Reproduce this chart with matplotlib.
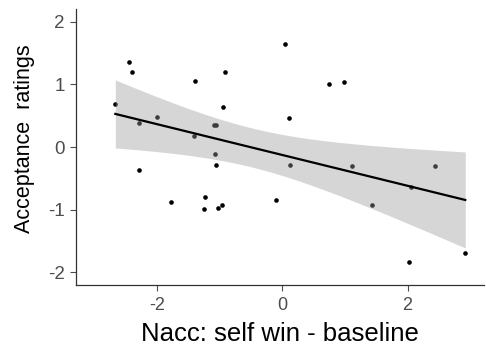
import numpy as np
import matplotlib
matplotlib.use("Agg")
import matplotlib.pyplot as plt

# data
nacc = [-2.66, -2.44, -2.40, -2.28, -2.00, -1.39, -1.41, -0.91, -0.95, -1.08,
        -1.05, -1.07, 0.05, 0.11, 0.75, 0.98, -1.06, -2.28, 0.12, -1.77,
        -1.23, -1.24, -1.02, -0.96, -0.10, 1.12, 2.43, 2.05, 1.44, 2.03, 2.92]
acceptance = [0.68, 1.36, 1.19, 0.39, 0.48, 1.06, 0.17, 1.19, 0.64, 0.35,
              0.35, -0.11, 1.65, 0.46, 1.00, 1.04, -0.29, -0.37, -0.29, -0.87,
              -0.79, -0.99, -0.98, -0.92, -0.85, -0.31, -0.31, -0.64, -0.93, -1.83, -1.69]
x_ticks = [-2, 0, 2]
y_ticks = [-2, -1, 0, 1, 2]

plt.rcParams["font.family"] = ["Liberation Sans", "DejaVu Sans"]

x = np.array(nacc)
y = np.array(acceptance)

# linear fit with 95% confidence band (like geom_smooth(method="lm"))
slope, intercept = np.polyfit(x, y, 1)
n = len(x)
resid = y - (slope * x + intercept)
s = np.sqrt(np.sum(resid ** 2) / (n - 2))
t_crit = 2.045  # t(0.975, df=29)
xs = np.linspace(x.min(), x.max(), 200)
ys = slope * xs + intercept
se = s * np.sqrt(1 / n + (xs - x.mean()) ** 2 / np.sum((x - x.mean()) ** 2))

fig = plt.figure(figsize=(4.86, 3.5), dpi=100)
ax = fig.add_axes([0.156, 0.186, 0.84, 0.788])

ax.scatter(x, y, s=11, color="black", zorder=1, linewidths=0)
ax.fill_between(xs, ys - t_crit * se, ys + t_crit * se, color="#999999", alpha=0.4,
                linewidth=0, zorder=2)
ax.plot(xs, ys, color="black", lw=1.6, zorder=3)

ax.set_xlim(-3.29, 3.22)
ax.set_ylim(-2.2, 2.2)
ax.set_xticks(x_ticks)
ax.set_yticks(y_ticks)
ax.set_xticklabels([str(v) for v in x_ticks])
ax.set_yticklabels([str(v) for v in y_ticks])

for side in ["top", "right"]:
    ax.spines[side].set_visible(False)
for side in ["left", "bottom"]:
    ax.spines[side].set_color("#333333")
    ax.spines[side].set_linewidth(0.9)
ax.tick_params(colors="#4d4d4d", length=4.5, width=0.8)
ax.tick_params(axis="x", labelsize=13, pad=4)
ax.tick_params(axis="y", labelsize=13.5, pad=3.5)

ax.set_xlabel("Nacc: self win - baseline", fontsize=18.5, labelpad=6)
ax.set_ylabel("Acceptance  ratings", fontsize=15.5, labelpad=9, y=0.53)

fig.savefig("out.png", dpi=100)
